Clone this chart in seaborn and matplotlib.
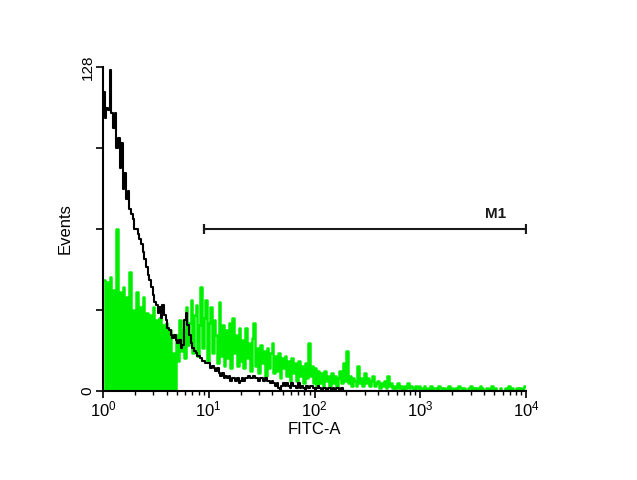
import numpy as np
import seaborn as sns
import matplotlib
matplotlib.use("Agg")
import matplotlib.pyplot as plt
from matplotlib.ticker import FixedLocator, LogLocator, NullFormatter

# histogram channels: 256 log channels over 4 decades (64 per decade)
n_channels = 256
decades = 4

# stained sample (green) counts per channel
green_counts = [
    44, 0, 43, 0, 45, 0, 40, 0, 64, 0, 39, 0, 41, 0, 37, 0,
    47, 0, 32, 0, 39, 0, 33, 0, 37, 0, 31, 0, 30, 0, 33, 0,
    28, 0, 29, 0, 26, 0, 27, 0, 24, 0, 15, 0, 22, 12,
    28, 16, 24, 13, 33, 18, 27, 36, 15, 30, 34, 14, 26, 41, 17, 29, 36, 12, 27, 33, 15, 28,
    22, 11, 35, 14, 26, 10, 24, 13, 27, 9, 29, 15, 22, 10, 25, 12,
    20, 9, 25, 13, 19, 8, 21, 27, 10, 17, 7, 18, 11, 16, 6, 17,
    9, 15, 19, 7, 14, 8, 15, 5, 13, 9, 14, 6, 12, 4, 13, 7,
    11, 4, 12, 6, 10, 3, 11, 5, 19, 6, 10, 3, 9,
    2, 8, 3, 7, 2, 8, 4, 6, 2, 7, 3, 6, 2, 5, 8, 3,
    11, 4, 16, 3, 6, 2, 5, 4, 2, 10, 3, 5, 2, 7, 3, 5,
    2, 4, 6, 2, 3, 4, 1, 3, 2, 4, 1, 6, 2, 3, 1,
    2, 1, 3, 1, 2, 0, 2, 1, 3, 1, 2, 1, 0, 2, 1, 2,
    1, 0, 2, 1, 0, 1, 2, 0, 1, 1, 0, 2, 1, 0, 1, 0,
    1, 2, 0, 1, 0, 1, 0, 2, 1, 0, 1, 0, 0, 1, 2, 0,
    1, 0, 1, 0, 2, 1, 0, 0, 1, 0, 1, 2, 0, 1, 0, 0,
    1, 0, 0, 1, 0, 2, 0, 1, 0, 0, 1, 0, 1, 0, 1, 2,
]

# control (black) counts per channel, zero after the listed ones
black_counts = [
    118, 108, 112, 111, 127, 110, 104, 110, 96, 100, 88, 98, 80, 86, 76, 79,
    72, 70, 68, 64, 64, 62, 60, 58, 55, 52, 49, 46, 44, 41, 38, 35,
    34, 31, 33, 29, 34, 30, 28, 25, 24, 22, 21, 22, 20, 19, 20, 17,
    18, 28, 31, 26, 22, 19, 17, 16, 15, 14, 14, 13, 12, 12, 11, 11,
    11, 9, 10, 9, 8, 9, 7, 6, 7, 5, 6, 5, 6, 4, 5, 5,
    4, 5, 3, 4, 5, 4, 5, 5, 6, 5, 5, 6, 5, 5, 4, 5,
    5, 4, 5, 4, 4, 3, 4, 3, 2, 3, 1, 0, 2, 3, 2, 3,
    2, 1, 3, 2, 2, 1, 3, 1, 2, 1, 0, 2, 1, 2, 2, 1,
    0, 1, 2, 1, 0, 1, 1, 0, 1, 1, 0, 1, 0, 1, 1, 0,
    1, 0, 0,
]
black_counts = black_counts + [0] * (n_channels - len(black_counts))

# M1 marker gate
gate_lo = 9
gate_hi = 1e4
gate_y = 64
gate_name = "M1"

y_ticks = [0, 32, 64, 96, 128]
y_ticklabels = ["0", "", "", "", "128"]
x_ticks = [1, 10, 100, 1000, 10000]
x_ticklabels = ["$10^{0}$", "$10^{1}$", "$10^{2}$", "$10^{3}$", "$10^{4}$"]

sns.set_style("ticks")
plt.rcParams["font.family"] = ["Liberation Sans", "DejaVu Sans"]
plt.rcParams["mathtext.fontset"] = "custom"
plt.rcParams["mathtext.rm"] = "Liberation Sans"
plt.rcParams["mathtext.it"] = "Liberation Sans:italic"
plt.rcParams["mathtext.bf"] = "Liberation Sans:bold"
plt.rcParams["text.color"] = "black"
plt.rcParams["axes.labelcolor"] = "black"
plt.rcParams["xtick.color"] = "black"
plt.rcParams["ytick.color"] = "black"

channel_pos = 10 ** ((np.arange(n_channels) + 0.5) * decades / n_channels)

fig = plt.figure(figsize=(6.37, 4.8), dpi=100)
ax = fig.add_axes([0.1617, 0.1854, 0.6641, 0.675])

sns.histplot(x=channel_pos, weights=green_counts, bins=n_channels, binrange=(0, decades),
             log_scale=True, element="step", fill=False, color="#00ee00", linewidth=1.8, ax=ax)
sns.histplot(x=channel_pos, weights=black_counts, bins=n_channels, binrange=(0, decades),
             log_scale=True, element="step", fill=False, color="black", linewidth=1.5, ax=ax)

# gate marker
ax.plot([gate_lo, gate_hi], [gate_y, gate_y], color="#1a1a1a", linewidth=1.5,
        marker="|", markersize=7, markeredgewidth=1.6)
ax.text(5200, gate_y + 3.3, gate_name, ha="center", va="bottom", fontsize=11,
        fontweight="bold", color="#1a1a1a")

ax.set_xlim(1, 1e4)
ax.set_ylim(0, 128)
ax.set_xticks(x_ticks)
ax.set_xticklabels(x_ticklabels, fontsize=12)
ax.xaxis.set_minor_locator(LogLocator(base=10, subs=np.arange(2, 10)))
ax.xaxis.set_minor_formatter(NullFormatter())
ax.yaxis.set_major_locator(FixedLocator(y_ticks))
ax.set_yticklabels(y_ticklabels, rotation=90, va="center", fontsize=11)

ax.tick_params(axis="both", which="major", direction="out", length=5, width=1.2, pad=1)
ax.tick_params(axis="x", which="minor", direction="out", length=3, width=1.0)
ax.set_xlabel("FITC-A", fontsize=12, labelpad=2)
ax.set_ylabel("Events", fontsize=12, labelpad=6)

sns.despine(ax=ax)
for side in ["left", "bottom"]:
    ax.spines[side].set_linewidth(1.5)
    ax.spines[side].set_color("black")

fig.savefig("out.png", dpi=100)
